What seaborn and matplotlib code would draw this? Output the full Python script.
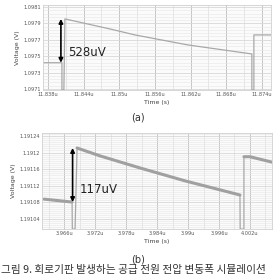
import numpy as np
import pandas as pd
import matplotlib
matplotlib.use("Agg")
import matplotlib.pyplot as plt
from matplotlib.ticker import AutoMinorLocator
import seaborn as sns

# ---- data (a) ----
time_a = [11.83716, 11.84036, 11.84036, 11.84069, 11.84086, 11.84843, 11.85264,
          11.86155, 11.87232, 11.87232, 11.87266, 11.87266, 11.87552]
volt_a = [1.097420, 1.097420, 1.097088, 1.097088, 1.097954, 1.097832, 1.097759,
          1.097637, 1.097527, 1.097088, 1.097088, 1.097759, 1.097759]
xticks_a = [11.838, 11.844, 11.850, 11.856, 11.862, 11.868, 11.874]
xlabels_a = ["11.838u", "11.844u", "11.85u", "11.856u", "11.862u", "11.868u", "11.874u"]
yticks_a = [1.0971, 1.0973, 1.0975, 1.0977, 1.0979, 1.0981]
ylabels_a = ["1.0971", "1.0973", "1.0975", "1.0977", "1.0979", "1.0981"]
label_a = "528uV"

# ---- data (b) ----
time_b = [3.96213, 3.96755, 3.96760, 3.96813, 3.96852, 3.97297, 3.98071,
          3.98942, 4.00006, 4.00010, 4.00083, 4.00083, 4.00200, 4.00626]
volt_b = [1.191088, 1.191081, 1.191016, 1.191016, 1.191211, 1.191192, 1.191163,
          1.191132, 1.191098, 1.191016, 1.191016, 1.191190, 1.191190, 1.191177]
# which stretch of the (b) trace each sample belongs to (curve pieces drawn thick)
seg_b = [0, 0, -1, -1, 1, 1, 1, 1, 1, -1, -1, 2, 2, 2]
xticks_b = [3.966, 3.972, 3.978, 3.984, 3.990, 3.996, 4.002]
xlabels_b = ["3.966u", "3.972u", "3.978u", "3.984u", "3.99u", "3.996u", "4.002u"]
yticks_b = [1.19104, 1.19108, 1.19112, 1.19116, 1.19120, 1.19124]
ylabels_b = ["1.19104", "1.19108", "1.19112", "1.19116", "1.1912", "1.19124"]
label_b = "117uV"

caption = "그림 9. 회로기판 발생하는 공급 전원 전압 변동폭 시뮬레이션"

sns.set_theme(style="white")
plt.rcParams['font.family'] = ['DejaVu Sans', 'Noto Sans CJK KR']

fig = plt.figure(figsize=(2.75, 2.76), dpi=100)
ax_a = fig.add_axes([0.156, 0.674, 0.829, 0.308])
ax_b = fig.add_axes([0.153, 0.170, 0.836, 0.348])

def style(ax, xt, xl, yt, yl, xlim, ylim, ysub):
    ax.set_xlim(*xlim)
    ax.set_ylim(*ylim)
    ax.set_xticks(xt)
    ax.set_xticklabels(xl, fontsize=3.6, color="#555555")
    ax.set_yticks(yt)
    ax.set_yticklabels(yl, fontsize=3.6, color="#555555")
    ax.xaxis.set_minor_locator(AutoMinorLocator(2))
    ax.yaxis.set_minor_locator(AutoMinorLocator(ysub))
    ax.grid(True, which="major", axis="x", color="#c4c4c4", lw=0.7)
    ax.grid(True, which="minor", axis="x", color="#dddddd", lw=0.5)
    ax.grid(True, which="major", axis="y", color="#d8d8d8", lw=0.6)
    ax.grid(True, which="minor", axis="y", color="#e6e6e6", lw=0.4)
    ax.tick_params(axis="both", which="both", length=0, pad=1.5)
    ax.set_facecolor("#fbfbfb")
    for s in ax.spines.values():
        s.set_color("#d0d0d0")
        s.set_linewidth(0.6)
    ax.set_xlabel("Time (s)", fontsize=4.5, color="#444444", labelpad=2)
    ax.set_ylabel("Voltage (V)", fontsize=4.5, color="#444444", labelpad=2.5)

df_a = pd.DataFrame({"t": time_a, "v": volt_a})
df_b = pd.DataFrame({"t": time_b, "v": volt_b, "seg": seg_b})
sns.lineplot(data=df_a, x="t", y="v", ax=ax_a, sort=False, estimator=None,
             color="#a8a8a8", lw=0.9)
# thin full trace, then thick curve pieces on top
sns.lineplot(data=df_b, x="t", y="v", ax=ax_b, sort=False, estimator=None,
             color="#a8a8a8", lw=0.9)
thick = df_b[df_b["seg"] >= 0]
sns.lineplot(data=thick, x="t", y="v", units="seg", ax=ax_b, sort=False,
             estimator=None, color="#a0a0a0", lw=2.2)

style(ax_a, xticks_a, xlabels_a, yticks_a, ylabels_a,
      (11.83716, 11.87552), (1.097088, 1.098124), 5)
style(ax_b, xticks_b, xlabels_b, yticks_b, ylabels_b,
      (3.96174, 4.00626), (1.191016, 1.191247), 8)

# arrows derived from data
def arrow(ax, x, lo, hi, text, dx_pts):
    ax.annotate("", xy=(x, hi), xytext=(x, lo),
                arrowprops=dict(arrowstyle="<|-|>", color="black", lw=1.2,
                                mutation_scale=6, shrinkA=0, shrinkB=0))
    ax.annotate(text, xy=(x, lo + 0.23 * (hi - lo)), xytext=(dx_pts, 0),
                textcoords="offset points", fontsize=8.5, color="#222222",
                va="center", ha="left")

arrow(ax_a, time_a[1] - 0.00017, volt_a[1], volt_a[4], label_a, 5)
arrow(ax_b, time_b[1] + 0.0001, volt_b[1], volt_b[4], label_b, 5)

fig.text(0.503, 1 - 118 / 276, "(a)", fontsize=7, color="#333333", ha="center", va="center")
fig.text(0.503, 1 - 260 / 276, "(b)", fontsize=7, color="#333333", ha="center", va="center")
fig.text(0.002, 1 - 270.5 / 276, caption, fontsize=7.7, color="#333333",
         ha="left", va="center", family=['Noto Sans CJK KR', 'DejaVu Sans'])

fig.savefig("out.png", dpi=100, facecolor="white")
